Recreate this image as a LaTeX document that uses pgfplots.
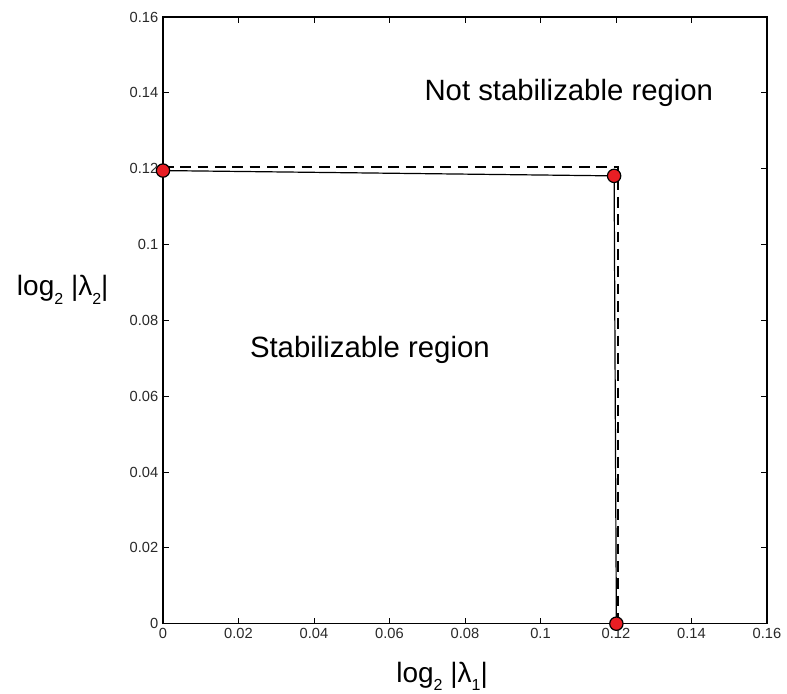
\documentclass[border=0pt]{standalone}
\usepackage{fontspec}
\setmainfont{Liberation Sans}
\usepackage{pgfplots}
\pgfplotsset{compat=1.18}
\definecolor{dotred}{RGB}{232,30,36}
\definecolor{ticktext}{RGB}{40,40,40}
\newcommand{\sub}[1]{\raisebox{-0.3em}{\fontsize{12}{12}\selectfont #1}}
\begin{document}
\begin{tikzpicture}
\begin{axis}[width=453pt, height=455pt, scale only axis, at={(0,0)}, anchor=south west,
  xmin=0, xmax=0.16, ymin=0, ymax=0.16,
  xtick={0,0.02,...,0.16}, ytick={0,0.02,...,0.16},
  tick align=inside, major tick length=4.5pt,
  axis line style={black, line width=0.8pt}, tick style={black, line width=0.6pt},
  /pgf/number format/fixed, /pgf/number format/precision=2,
  /pgf/number format/assume math mode=true,
  tick label style={font=\fontsize{11}{13}\selectfont, text=ticktext},
  xlabel={\fontsize{21}{24}\selectfont log\sub{2} |λ\sub{1}|},
  ylabel={\fontsize{21}{24}\selectfont log\sub{2} |λ\sub{2}|},
  xlabel style={at={(axis description cs:0.462,-0.087)}, anchor=center},
  ylabel style={rotate=-90, at={(axis description cs:-0.166,0.55)}, anchor=center},
  clip=false]
\addplot[black, line width=1.5pt, dash pattern=on 8pt off 5pt] coordinates {(0,0.1205) (0.1206,0.1205) (0.1206,0)};
\addplot[black, line width=0.9pt] coordinates {(0,0.1195) (0.1195,0.1181) (0.1201,0)};
\addplot[only marks, mark=*, mark size=5pt, mark options={fill=dotred, draw=black, line width=0.9pt}] coordinates {(0,0.1195) (0.1195,0.1181) (0.1201,0)};
\node[font=\fontsize{22}{26}\selectfont] at (axis cs:0.1075,0.1400) {Not stabilizable region};
\node[font=\fontsize{22}{26}\selectfont] at (axis cs:0.0548,0.0722) {Stabilizable region};
\end{axis}
\pgfresetboundingbox
\path (-122.25pt,-52.5pt) rectangle (468pt,467.75pt);
\end{tikzpicture}
\end{document}
